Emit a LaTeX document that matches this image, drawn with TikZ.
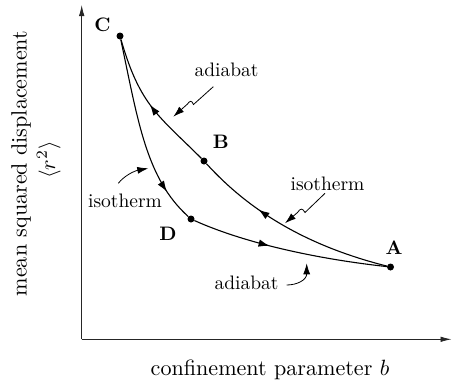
\documentclass[tikz,border=0pt]{standalone}
\usetikzlibrary{arrows.meta,decorations.markings}
\newcommand{\mylab}[1]{\scalebox{1.95}{#1}}
\newcommand{\myax}[1]{\scalebox{2.21}{#1}}
\begin{document}
\begin{tikzpicture}[x=1pt,y=-1pt,
  dot/.style={circle,fill=black,inner sep=0pt,minimum size=7pt},
  curve/.style={line width=1.1pt},
  lbl/.style={anchor=base, inner sep=0pt},
  ptlbl/.style={font=\bfseries, anchor=base, inner sep=0pt},
  axlbl/.style={anchor=base, inner sep=0pt},
  axisline/.style={line width=0.8pt, black!85, -{Latex[length=11pt,width=5.5pt]}},
  annot/.style={line width=0.8pt, -{Latex[length=11pt,width=7pt]}},
  fwd/.style={postaction={decorate},decoration={markings,mark=at position #1 with {\arrow{Latex[length=11pt,width=7.5pt]}}}},
  bwd/.style={postaction={decorate},decoration={markings,mark=at position #1 with {\arrowreversed{Latex[length=11pt,width=7.5pt]}}}},
]
\useasboundingbox (0,0) rectangle (452,383);

% axes
\coordinate (O) at (81.7,339.3);
\coordinate (Ytop) at (81.7,5);
\coordinate (Xend) at (451.5,339.3);
\draw[axisline] (O) -- (Ytop);
\draw[axisline] (O) -- (Xend);

\node[axlbl] (xl) at (270,375) {\myax{confinement parameter $b$}};
\node[axlbl, rotate=90] (yl1) at (26.7,163.5) {\myax{mean squared displacement}};
\node[axlbl, rotate=90] (yl2) at (55,160) {\myax{$\langle r^2\rangle$}};

% state points
\node[dot] (C) at (120,36) {};
\node[dot] (B) at (204,161) {};
\node[dot] (D) at (191,219) {};
\node[dot] (A) at (390.5,267) {};

\node[ptlbl] (lC) at (102.5,31.7) {\mylab{C}};
\node[ptlbl] (lB) at (220.8,148) {\mylab{B}};
\node[ptlbl] (lD) at (168,240.7) {\mylab{D}};
\node[ptlbl] (lA) at (394,254) {\mylab{A}};

% cycle curves
\draw[curve, bwd=0.49] (C) .. controls (140,106) and (159,116) .. (B);
\draw[curve, bwd=0.33] (B) .. controls (249,210.5) and (306,245.75) .. (A);
\draw[curve, fwd=0.83] (C) .. controls (138,120.6) and (146,178.5) .. (D);
\draw[curve, fwd=0.40] (D) .. controls (241,241.5) and (310,258.1) .. (A);

% labels
\node[lbl] (t1) at (226.5,76) {\mylab{adiabat}};
\node[lbl] (t2) at (327.5,190.7) {\mylab{isotherm}};
\node[lbl] (t3) at (125,207.3) {\mylab{isotherm}};
\node[lbl] (t4) at (246.5,289.5) {\mylab{adiabat}};

% annotation arrows
\coordinate (a1s) at (213.3,86.7);
\coordinate (a1m) at (193.5,104.5);
\coordinate (a1n) at (187.5,104);
\coordinate (a1e) at (173.3,116.7);
\draw[annot] (a1s) -- (a1m) .. controls (191.5,100) and (190,100.5) .. (a1n) -- (a1e);

\coordinate (a2s) at (325,193.3);
\coordinate (a2m) at (305,212.5);
\coordinate (a2n) at (297.5,212.5);
\coordinate (a2e) at (285,223.3);
\draw[annot] (a2s) -- (a2m) .. controls (302.5,208) and (300.5,208) .. (a2n) -- (a2e);

\coordinate (a3s) at (118.3,183.3);
\coordinate (a3e) at (148.3,168.3);
\draw[annot] (a3s) .. controls (124,176) and (134,171) .. (a3e);

\coordinate (a4s) at (286.7,285);
\coordinate (a4e) at (306.7,263.3);
\draw[annot] (a4s) .. controls (297,285) and (306.7,280) .. (a4e);
\end{tikzpicture}
\end{document}
